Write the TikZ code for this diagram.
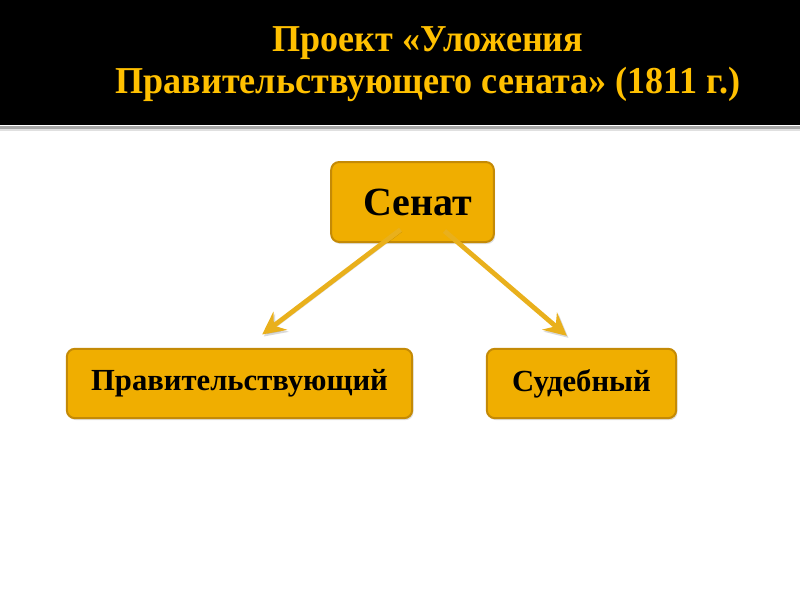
\documentclass[tikz,border=0pt]{standalone}
\usepackage{fontspec}
\setmainfont{Liberation Serif}
\newfontfamily\titlefont[FakeStretch=0.95]{Liberation Serif}
\usepackage{xcolor}
\usetikzlibrary{arrows.meta, positioning, shadows}

\definecolor{goldfill}{HTML}{F0AE00}
\definecolor{goldline}{HTML}{C48A06}
\definecolor{goldtext}{HTML}{FFC000}
\definecolor{goldarrow}{HTML}{E9B01C}

\begin{document}
\begin{tikzpicture}[
  x=0.75pt, y=-0.75pt,
  every node/.style={align=center},
  box/.style={draw=goldline, line width=1.5pt, fill=goldfill, rounded corners=6pt,
              inner sep=0pt, font=\bfseries,
              drop shadow={opacity=0.25, shadow xshift=1pt, shadow yshift=-1.5pt}},
  arr/.style={-{Stealth[length=17pt, width=17pt, inset=6pt]}, line width=3.6pt, draw=goldarrow,
              preaction={draw=black, opacity=0.15, transform canvas={xshift=1.2pt, yshift=-1.5pt}}},
]
  \useasboundingbox (0,0) rectangle (800,600);
  % header band
  \fill[black] (0,0) rectangle (800,125);
  \fill[black!35] (0,126) rectangle (800,129);
  \fill[black!12] (0,129) rectangle (800,131);
  \node[text=goldtext, font=\titlefont\bfseries\fontsize{28.5pt}{32pt}\selectfont]
    (title) at (428, 64) {Проект «Уложения\\Правительствующего сената» (1811 г.)};

  \node[box, minimum width=122pt, minimum height=60pt,
        font=\bfseries\fontsize{30pt}{32pt}\selectfont] (senat) at (412.5, 202) {\hspace{8pt}Сенат};
  \node[box, minimum width=259pt, minimum height=52pt,
        font=\bfseries\fontsize{23pt}{26pt}\selectfont] (prav) at (239.5, 383.5) {Правительствующий};
  \node[box, minimum width=142pt, minimum height=52pt,
        font=\bfseries\fontsize{23pt}{26pt}\selectfont] (sud) at (581.5, 383.5) {Судебный};

  \draw[arr] ([xshift=-9pt, yshift=10pt]senat.south) -- ([xshift=17pt, yshift=10pt]prav.north);
  \draw[arr] ([xshift=24pt, yshift=9pt]senat.south) -- ([xshift=-11pt, yshift=9pt]sud.north);
\end{tikzpicture}
\end{document}
